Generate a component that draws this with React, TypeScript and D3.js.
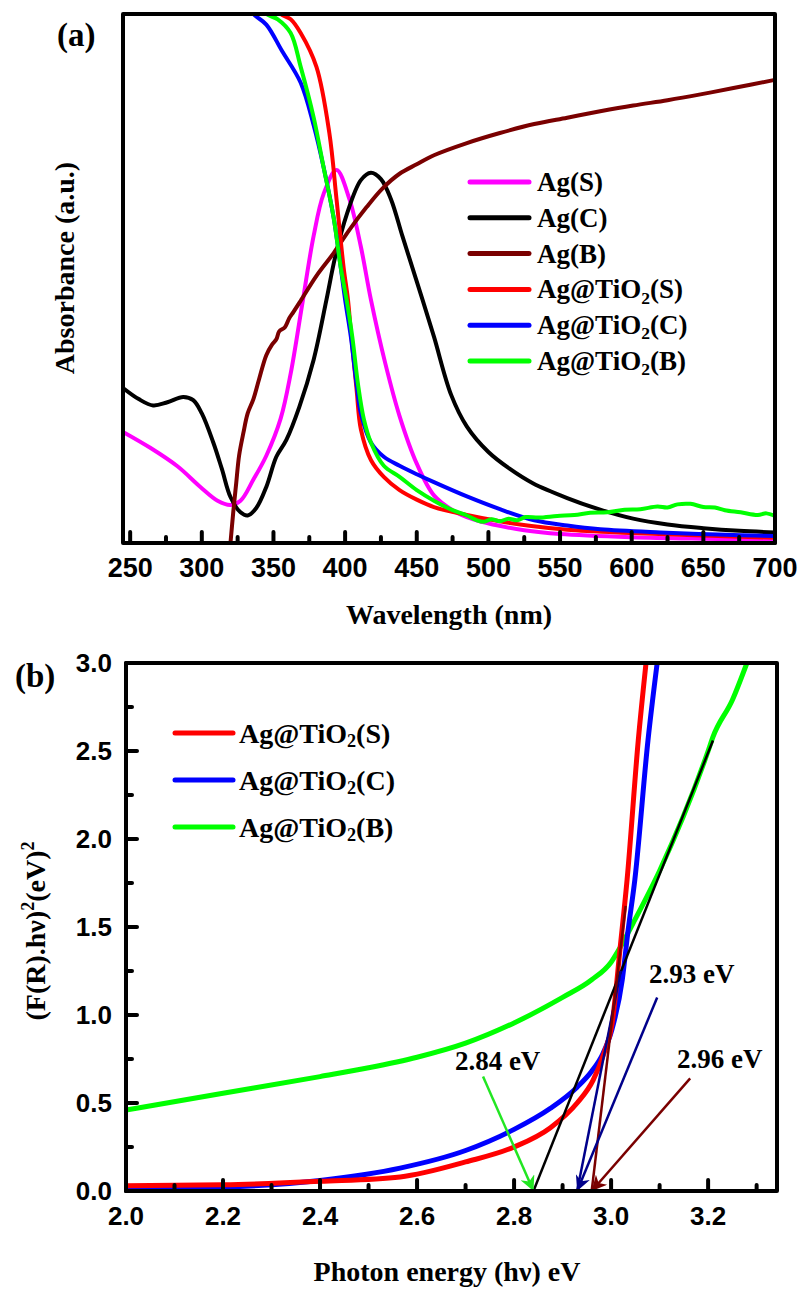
import React, { useEffect, useRef } from 'react';
import * as d3 from 'd3';

// panel (a) - UV-vis absorbance
const wavelengthTicks = [250, 300, 350, 400, 450, 500, 550, 600, 650, 700];
const wavelengthMinor = [275, 325, 375, 425, 475, 525, 575, 625, 675];

const agS = [
  [245, 0.21], [264, 0.18], [283, 0.145], [299, 0.106], [311, 0.08], [320, 0.072], [327, 0.08],
  [336, 0.12], [345, 0.165], [355, 0.235], [362, 0.32], [370, 0.45], [378, 0.58], [385, 0.66],
  [394, 0.705], [403, 0.65], [411, 0.56], [418, 0.46], [428, 0.34], [438, 0.24],
  [450, 0.15], [462, 0.09], [475, 0.062], [490, 0.044], [505, 0.034], [525, 0.024], [550, 0.017],
  [600, 0.011], [650, 0.008], [700, 0.006],
];
const agC = [
  [245, 0.293], [256, 0.272], [266, 0.26], [276, 0.266], [287, 0.276], [294, 0.27], [300, 0.245],
  [308, 0.19], [314, 0.14], [320, 0.087], [327, 0.058], [332, 0.052], [338, 0.066], [345, 0.106],
  [352, 0.163], [359, 0.195], [368, 0.257], [378, 0.346], [387, 0.46], [393, 0.54], [401, 0.62],
  [411, 0.686], [418, 0.7], [425, 0.688], [432, 0.65], [440, 0.58], [447, 0.52], [454, 0.46],
  [462, 0.39], [474, 0.28], [485, 0.22], [500, 0.172], [515, 0.14], [531, 0.113], [555, 0.085],
  [578, 0.063], [601, 0.046], [625, 0.035], [650, 0.028], [675, 0.023], [700, 0.02],
];
const agB = [
  [320, 0.0], [322, 0.06], [324, 0.113], [326, 0.165], [329, 0.208], [332, 0.245], [336, 0.272],
  [340, 0.31], [345, 0.355], [349, 0.375], [352, 0.385], [354, 0.4], [358, 0.408], [361, 0.425],
  [364, 0.437], [369, 0.458], [380, 0.505], [392, 0.548], [403, 0.592], [415, 0.635], [426, 0.67],
  [438, 0.698], [450, 0.716], [462, 0.733], [485, 0.756], [508, 0.775], [532, 0.792], [555, 0.804],
  [578, 0.816], [601, 0.827], [625, 0.837], [648, 0.848], [671, 0.86], [699, 0.875],
];
const tiS = [
  [345, 1.03], [355, 1.0], [362, 0.99], [369, 0.964], [380, 0.9], [389, 0.775], [394, 0.65],
  [399, 0.52], [402, 0.46], [404, 0.4], [408, 0.29], [411, 0.215], [418, 0.157], [427, 0.125],
  [438, 0.1], [450, 0.082], [462, 0.068], [485, 0.053], [508, 0.041], [530, 0.032], [555, 0.025],
  [600, 0.019], [650, 0.014], [700, 0.01],
];
const tiC = [
  [328, 1.03], [336, 1.0], [345, 0.98], [356, 0.93], [369, 0.87], [378, 0.79], [385, 0.71],
  [392, 0.615], [397, 0.52], [400, 0.46], [404, 0.39], [408, 0.3], [411, 0.245], [418, 0.19],
  [427, 0.163], [438, 0.146], [450, 0.13], [462, 0.115], [485, 0.088], [508, 0.064], [532, 0.043],
  [555, 0.033], [578, 0.026], [620, 0.02], [660, 0.016], [700, 0.013],
];
const tiB = [
  [336, 1.03], [345, 1.0], [353, 0.99], [362, 0.964], [369, 0.9], [378, 0.805], [385, 0.71],
  [392, 0.615], [397, 0.52], [401, 0.46], [405, 0.39], [409, 0.3], [413, 0.235], [418, 0.19],
  [427, 0.146], [438, 0.125], [450, 0.1], [462, 0.08], [475, 0.062], [485, 0.052], [491, 0.044],
  [497, 0.04], [502, 0.045], [508, 0.041], [514, 0.046], [520, 0.043], [526, 0.049], [535, 0.048],
  [548, 0.051], [560, 0.053], [571, 0.057], [583, 0.058], [595, 0.063], [606, 0.064], [618, 0.069],
  [625, 0.067], [632, 0.073], [641, 0.074], [650, 0.068], [658, 0.067], [665, 0.062], [676, 0.058],
  [688, 0.053], [694, 0.056], [700, 0.051],
];

const seriesA = [
  { name: 'Ag(S)', sub: '', color: '#ff00ff', data: agS },
  { name: 'Ag(C)', sub: '', color: '#000000', data: agC },
  { name: 'Ag(B)', sub: '', color: '#7a0000', data: agB },
  { name: 'Ag@TiO', sub: '(S)', color: '#ff0000', data: tiS },
  { name: 'Ag@TiO', sub: '(C)', color: '#0000ff', data: tiC },
  { name: 'Ag@TiO', sub: '(B)', color: '#00ff00', data: tiB },
];

// panel (b) - Tauc plot
const energyTicks = [2.0, 2.2, 2.4, 2.6, 2.8, 3.0, 3.2];
const energyMinor = [2.1, 2.3, 2.5, 2.7, 2.9, 3.1, 3.3];
const taucTicks = [0, 0.5, 1.0, 1.5, 2.0, 2.5, 3.0];
const taucMinor = [0.25, 0.75, 1.25, 1.75, 2.25, 2.75];

const taucS = [
  [2.0, 0.03], [2.2, 0.035], [2.4, 0.055], [2.565, 0.08], [2.7, 0.165], [2.8, 0.25], [2.875, 0.36],
  [2.93, 0.5], [2.963, 0.63], [2.985, 0.78], [3.002, 0.95], [3.019, 1.39], [3.033, 1.77],
  [3.056, 2.56], [3.072, 3.0],
];
const taucC = [
  [2.0, 0.012], [2.2, 0.022], [2.4, 0.06], [2.565, 0.13], [2.7, 0.23], [2.8, 0.35], [2.875, 0.47],
  [2.93, 0.59], [2.96, 0.68], [2.983, 0.78], [3.002, 0.92], [3.023, 1.2], [3.035, 1.48],
  [3.049, 1.77], [3.076, 2.56], [3.095, 3.0],
];
const taucB = [
  [2.0, 0.46], [2.2, 0.555], [2.4, 0.65], [2.5, 0.7], [2.6, 0.76], [2.7, 0.84], [2.8, 0.955],
  [2.9, 1.1], [2.96, 1.2], [3.0, 1.3], [3.02, 1.39], [3.045, 1.52], [3.1, 1.82], [3.2, 2.5],
  [3.21, 2.58], [3.25, 2.79], [3.28, 3.0],
];

const seriesB = [
  { name: 'Ag@TiO', sub: '(S)', color: '#ff0000', data: taucS },
  { name: 'Ag@TiO', sub: '(C)', color: '#0000ff', data: taucC },
  { name: 'Ag@TiO', sub: '(B)', color: '#00ff00', data: taucB },
];

// tangent fits and arrows, as [E, value] pairs
const fitLines = [
  { color: '#000000', from: [2.84, 0], to: [3.21, 2.56] },
  { color: '#00008b', from: [2.93, 0], to: [3.02, 1.25] },
  { color: '#7a0000', from: [2.96, 0], to: [3.03, 1.62] },
];
const gapArrows = [
  { label: '2.84 eV', color: '#22e622', from: [2.736, 0.65], to: [2.84, 0], text: [2.678, 0.69] },
  { label: '2.93 eV', color: '#00008b', from: [3.095, 1.1], to: [2.93, 0], text: [3.078, 1.18] },
  { label: '2.96 eV', color: '#7a0000', from: [3.163, 0.64], to: [2.96, 0], text: [3.136, 0.7] },
];

const SERIF = '"Liberation Serif", "Times New Roman", serif';
const SANS = '"Liberation Sans", Arial, sans-serif';

const App = () => {
  const svgRef = useRef(null);

  useEffect(() => {
    const svg = d3.select(svgRef.current);
    svg.selectAll('*').remove();

    const addLabel = (g, x, y, name, sub, size) => {
      const t = g.append('text')
        .attr('x', x).attr('y', y)
        .attr('font-family', SERIF).attr('font-weight', 'bold')
        .attr('font-size', size).attr('dominant-baseline', 'central')
        .text(name);
      if (sub) {
        t.append('tspan').attr('dy', size * 0.3).attr('font-size', size * 0.65).text('2');
        t.append('tspan').attr('dy', -size * 0.3).text(sub);
      }
    };

    const drawFrame = (g, box) => {
      g.append('rect')
        .attr('x', box.left).attr('y', box.top)
        .attr('width', box.right - box.left).attr('height', box.bottom - box.top)
        .attr('fill', 'none').attr('stroke', '#000').attr('stroke-width', 4)
        .attr('stroke-linejoin', 'round');
    };

    // ---------- panel (a) ----------
    const boxA = { left: 123, top: 14, right: 775, bottom: 543 };
    const xA = d3.scaleLinear().domain([245, 700]).range([boxA.left, boxA.right]);
    const yA = d3.scaleLinear().domain([0, 1]).range([boxA.bottom, boxA.top]);

    const gA = svg.append('g');
    gA.append('clipPath').attr('id', 'clipA').append('rect')
      .attr('x', boxA.left).attr('y', boxA.top)
      .attr('width', boxA.right - boxA.left).attr('height', boxA.bottom - boxA.top);

    const lineA = d3.line().x((d) => xA(d[0])).y((d) => yA(d[1])).curve(d3.curveCatmullRom.alpha(0.5));
    const curvesA = gA.append('g').attr('clip-path', 'url(#clipA)');
    seriesA.forEach((s) => {
      curvesA.append('path').attr('d', lineA(s.data))
        .attr('fill', 'none').attr('stroke', s.color).attr('stroke-width', 4)
        .attr('stroke-linejoin', 'round').attr('stroke-linecap', 'round');
    });

    drawFrame(gA, boxA);

    wavelengthTicks.forEach((t) => {
      gA.append('line').attr('x1', xA(t)).attr('x2', xA(t))
        .attr('y1', boxA.bottom).attr('y2', boxA.bottom - 11)
        .attr('stroke', '#000').attr('stroke-width', 4).attr('stroke-linecap', 'round');
      gA.append('text').attr('x', xA(t)).attr('y', 577)
        .attr('text-anchor', 'middle').attr('font-family', SANS).attr('font-weight', 'bold')
        .attr('font-size', 27).text(t);
    });
    wavelengthMinor.forEach((t) => {
      gA.append('line').attr('x1', xA(t)).attr('x2', xA(t))
        .attr('y1', boxA.bottom).attr('y2', boxA.bottom - 6)
        .attr('stroke', '#000').attr('stroke-width', 4).attr('stroke-linecap', 'round');
    });

    gA.append('text').attr('x', 449).attr('y', 624).attr('text-anchor', 'middle')
      .attr('font-family', SERIF).attr('font-weight', 'bold').attr('font-size', 28)
      .text('Wavelength (nm)');
    gA.append('text').attr('transform', 'translate(74,268) rotate(-90)')
      .attr('text-anchor', 'middle')
      .attr('font-family', SERIF).attr('font-weight', 'bold').attr('font-size', 28)
      .text('Absorbance (a.u.)');
    gA.append('text').attr('x', 57).attr('y', 46)
      .attr('font-family', SERIF).attr('font-weight', 'bold').attr('font-size', 33)
      .text('(a)');

    seriesA.forEach((s, i) => {
      const y = 182 + i * 35.8;
      gA.append('line').attr('x1', 470).attr('x2', 529).attr('y1', y).attr('y2', y)
        .attr('stroke', s.color).attr('stroke-width', 5).attr('stroke-linecap', 'round');
      addLabel(gA, 537, y, s.name, s.sub, 27);
    });

    // ---------- panel (b) ----------
    const boxB = { left: 126, top: 663, right: 777, bottom: 1191 };
    const xB = d3.scaleLinear().domain([2.0, 3.342]).range([boxB.left, boxB.right]);
    const yB = d3.scaleLinear().domain([0, 3]).range([boxB.bottom, boxB.top]);

    const gB = svg.append('g');
    gB.append('clipPath').attr('id', 'clipB').append('rect')
      .attr('x', boxB.left).attr('y', boxB.top)
      .attr('width', boxB.right - boxB.left).attr('height', boxB.bottom - boxB.top);

    const lineB = d3.line().x((d) => xB(d[0])).y((d) => yB(d[1])).curve(d3.curveMonotoneX);
    const curvesB = gB.append('g').attr('clip-path', 'url(#clipB)');
    [seriesB[2], seriesB[1], seriesB[0]].forEach((s) => {
      curvesB.append('path').attr('d', lineB(s.data))
        .attr('fill', 'none').attr('stroke', s.color).attr('stroke-width', 5)
        .attr('stroke-linejoin', 'round');
    });

    fitLines.forEach((f) => {
      curvesB.append('line')
        .attr('x1', xB(f.from[0])).attr('y1', yB(f.from[1]))
        .attr('x2', xB(f.to[0])).attr('y2', yB(f.to[1]))
        .attr('stroke', f.color).attr('stroke-width', 2.5);
    });

    gapArrows.forEach((a, i) => {
      const id = `arrow${i}`;
      gB.append('marker').attr('id', id)
        .attr('viewBox', '0 0 10 10').attr('refX', 10).attr('refY', 5)
        .attr('markerWidth', 24).attr('markerHeight', 15)
        .attr('markerUnits', 'userSpaceOnUse').attr('orient', 'auto')
        .append('path').attr('d', 'M0,0 L10,5 L0,10 L3,5 Z').attr('fill', a.color);
      gB.append('line')
        .attr('x1', xB(a.from[0])).attr('y1', yB(a.from[1]))
        .attr('x2', xB(a.to[0])).attr('y2', yB(a.to[1]))
        .attr('stroke', a.color).attr('stroke-width', 2.5)
        .attr('marker-end', `url(#${id})`);
      gB.append('text').attr('x', xB(a.text[0])).attr('y', yB(a.text[1]))
        .attr('font-family', SERIF).attr('font-weight', 'bold').attr('font-size', 27)
        .text(a.label);
    });

    drawFrame(gB, boxB);

    energyTicks.forEach((t) => {
      gB.append('line').attr('x1', xB(t)).attr('x2', xB(t))
        .attr('y1', boxB.bottom).attr('y2', boxB.bottom - 11)
        .attr('stroke', '#000').attr('stroke-width', 4).attr('stroke-linecap', 'round');
      gB.append('text').attr('x', xB(t)).attr('y', 1225)
        .attr('text-anchor', 'middle').attr('font-family', SANS).attr('font-weight', 'bold')
        .attr('font-size', 26).text(d3.format('.1f')(t));
    });
    energyMinor.forEach((t) => {
      gB.append('line').attr('x1', xB(t)).attr('x2', xB(t))
        .attr('y1', boxB.bottom).attr('y2', boxB.bottom - 6)
        .attr('stroke', '#000').attr('stroke-width', 4).attr('stroke-linecap', 'round');
    });
    taucTicks.forEach((t) => {
      gB.append('line').attr('x1', boxB.left).attr('x2', boxB.left + 11)
        .attr('y1', yB(t)).attr('y2', yB(t))
        .attr('stroke', '#000').attr('stroke-width', 4).attr('stroke-linecap', 'round');
      gB.append('text').attr('x', 112).attr('y', yB(t)).attr('dy', '0.36em')
        .attr('text-anchor', 'end').attr('font-family', SANS).attr('font-weight', 'bold')
        .attr('font-size', 26).text(d3.format('.1f')(t));
    });
    taucMinor.forEach((t) => {
      gB.append('line').attr('x1', boxB.left).attr('x2', boxB.left + 6)
        .attr('y1', yB(t)).attr('y2', yB(t))
        .attr('stroke', '#000').attr('stroke-width', 4).attr('stroke-linecap', 'round');
    });

    gB.append('text').attr('x', 447).attr('y', 1281).attr('text-anchor', 'middle')
      .attr('font-family', SERIF).attr('font-weight', 'bold').attr('font-size', 28)
      .text('Photon energy (h\u03bd) eV');

    const yt = gB.append('text').attr('transform', 'translate(45,931) rotate(-90)')
      .attr('text-anchor', 'middle')
      .attr('font-family', SERIF).attr('font-weight', 'bold').attr('font-size', 28);
    yt.append('tspan').text('(F(R).h\u03bd)');
    yt.append('tspan').attr('dy', -11).attr('font-size', 18).text('2');
    yt.append('tspan').attr('dy', 11).text('(eV)');
    yt.append('tspan').attr('dy', -11).attr('font-size', 18).text('2');

    gB.append('text').attr('x', 15).attr('y', 687)
      .attr('font-family', SERIF).attr('font-weight', 'bold').attr('font-size', 33)
      .text('(b)');

    seriesB.forEach((s, i) => {
      const y = 733 + i * 47;
      gB.append('line').attr('x1', 175).attr('x2', 233).attr('y1', y).attr('y2', y)
        .attr('stroke', s.color).attr('stroke-width', 5).attr('stroke-linecap', 'round');
      addLabel(gB, 239, y, s.name, s.sub, 28);
    });
  }, []);

  return (
    <svg
      ref={svgRef}
      width={801}
      height={1289}
      style={{ position: 'absolute', left: 0, top: 0, background: '#fff' }}
    />
  );
};

export default App;
